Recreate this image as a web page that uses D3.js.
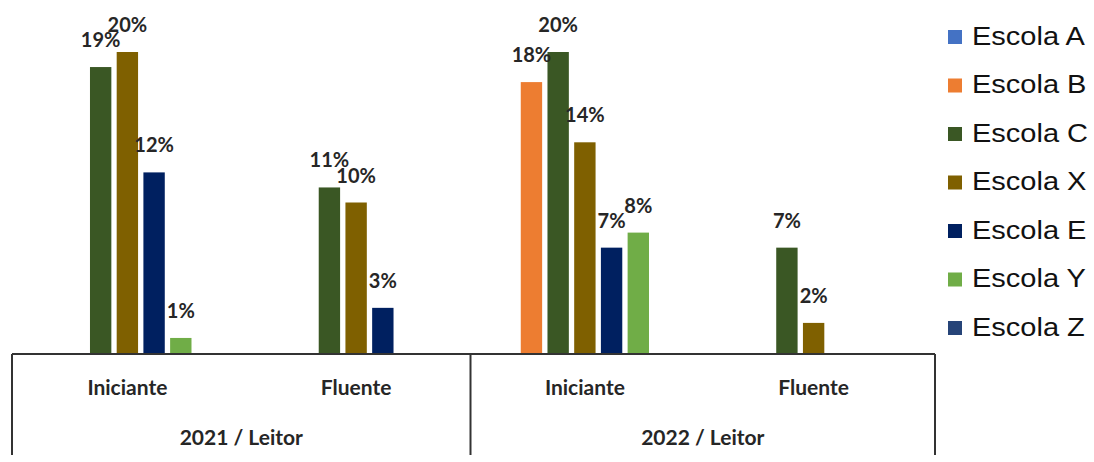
<!DOCTYPE html>
<html>
  <head>
    <meta charset="utf-8" />
    <title>Leitor por escola</title>
    <script src="https://d3js.org/d3.v7.min.js"></script>
    <style>
      body { margin: 0; background: #fff; }
    </style>
  </head>
  <body>
    <svg id="chart" width="1094" height="462"></svg>
    <script>
      // dados (em %)
      const groups = ["2021 / Leitor", "2022 / Leitor"];
      const levels = ["Iniciante", "Fluente"];
      const categories = ["2021|Iniciante", "2021|Fluente", "2022|Iniciante", "2022|Fluente"];
      const schools = ["Escola A", "Escola B", "Escola C", "Escola X", "Escola E", "Escola Y", "Escola Z"];
      const colors = ["#4472C4", "#ED7D31", "#3A5724", "#7F6000", "#002060", "#70AD47", "#264478"];
      const escolaA = [null, null, null, null];
      const escolaB = [null, null, 18, null];
      const escolaC = [19, 11, 20, 7];
      const escolaX = [20, 10, 14, 2];
      const escolaE = [12, 3, 7, null];
      const escolaY = [1, null, 8, null];
      const escolaZ = [null, null, null, null];
      const series = [escolaA, escolaB, escolaC, escolaX, escolaE, escolaY, escolaZ];

      const svg = d3.select("#chart");
      const baseY = 353;
      const left = 12, right = 935;

      const x0 = d3.scaleBand().domain(categories).range([13, 928]);
      const x1 = d3.scaleBand().domain(schools)
        .range([x0.bandwidth() / 2 - 93.5, x0.bandwidth() / 2 + 93.5])
        .paddingInner(0.2).paddingOuter(0.1);
      const y = d3.scaleLinear().domain([0, 20]).range([baseY, 52]);

      const color = d3.scaleOrdinal().domain(schools).range(colors);

      // barras
      const cells = [];
      series.forEach((vals, si) => {
        vals.forEach((v, ci) => {
          if (v !== null) cells.push({ school: schools[si], cat: categories[ci], v });
        });
      });

      const bars = svg.append("g");
      bars.selectAll("rect")
        .data(cells)
        .enter()
        .append("rect")
        .attr("x", (d) => x0(d.cat) + x1(d.school))
        .attr("y", (d) => y(d.v))
        .attr("width", x1.bandwidth())
        .attr("height", (d) => baseY - y(d.v))
        .attr("fill", (d) => color(d.school));

      bars.selectAll("text")
        .data(cells)
        .enter()
        .append("text")
        .attr("x", (d) => x0(d.cat) + x1(d.school) + x1.bandwidth() / 2)
        .attr("y", (d) => y(d.v) - 20)
        .attr("text-anchor", "middle")
        .style("font-family", "Lato, sans-serif")
        .style("font-weight", "700")
        .style("font-size", "20px")
        .style("fill", "#262626")
        .text((d) => d.v + "%");

      // eixo com caixas de categorias
      const axis = svg.append("g").style("stroke", "#333").style("stroke-width", 2);
      axis.append("line").attr("x1", left).attr("x2", right).attr("y1", baseY + 1).attr("y2", baseY + 1);
      const splits = [left, (x0(categories[1]) + x0.bandwidth() + x0(categories[2])) / 2, right];
      axis.selectAll(".split")
        .data(splits)
        .enter()
        .append("line")
        .attr("x1", (d) => d).attr("x2", (d) => d)
        .attr("y1", baseY + 1).attr("y2", 455);

      svg.append("g")
        .selectAll("text")
        .data(categories)
        .enter()
        .append("text")
        .attr("x", (d) => x0(d) + x0.bandwidth() / 2)
        .attr("y", 395)
        .attr("text-anchor", "middle")
        .style("font-family", "Lato, sans-serif")
        .style("font-weight", "700")
        .style("font-size", "21px")
        .style("fill", "#262626")
        .text((d, i) => levels[i % 2]);

      svg.append("g")
        .selectAll("text")
        .data(groups)
        .enter()
        .append("text")
        .attr("x", (d, i) => (splits[i] + splits[i + 1]) / 2)
        .attr("y", 445)
        .attr("text-anchor", "middle")
        .style("font-family", "Lato, sans-serif")
        .style("font-weight", "700")
        .style("font-size", "21px")
        .style("fill", "#262626")
        .text((d) => d);

      // legenda
      const ly = d3.scalePoint().domain(schools).range([36, 327]);
      const legend = svg.append("g")
        .selectAll("g")
        .data(schools)
        .enter()
        .append("g")
        .attr("transform", (d) => `translate(948,${ly(d)})`);
      legend.append("rect")
        .attr("x", 0).attr("y", -6)
        .attr("width", 14).attr("height", 14)
        .attr("fill", (d) => color(d));
      legend.append("text")
        .attr("transform", "translate(24,0) scale(1.16,1)")
        .attr("dy", "0.35em")
        .style("font-family", "'Liberation Sans', Arial, sans-serif")
        .style("font-size", "25px")
        .style("fill", "#111")
        .text((d) => d);
    </script>
  </body>
</html>
